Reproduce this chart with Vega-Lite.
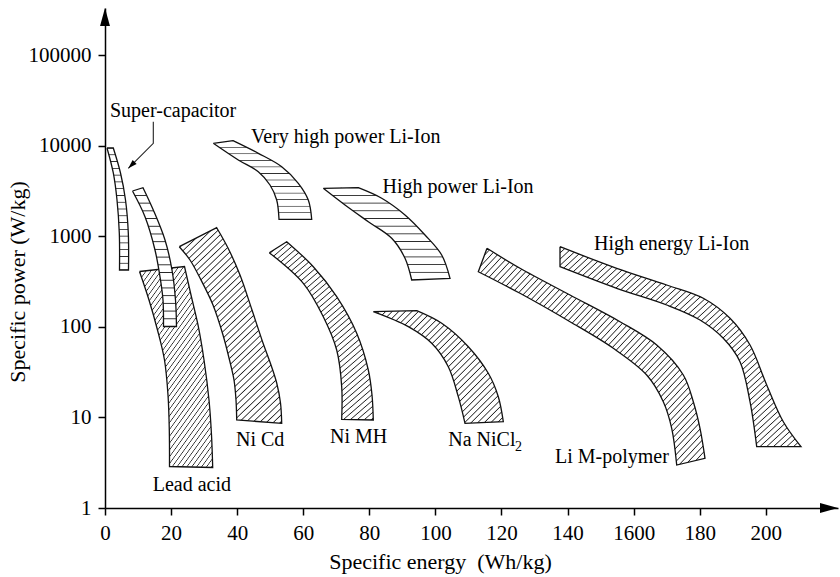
{
"$schema":"https://vega.github.io/schema/vega-lite/v6.json",
"width":733,"height":500,
"autosize":{"type":"none"},
"padding":{"left":105,"top":8,"right":2,"bottom":69},
"background":"white",
"config":{"view":{"stroke":null},
"line":{"interpolate":"catmull-rom"},
"axis":{"domainColor":"#000","domainWidth":1.5,"tickColor":"#000","tickWidth":1.5,"tickSize":7,"labelFont":"Liberation Serif","labelFontSize":21,"labelColor":"#000","labelPadding":7,"titleFont":"Liberation Serif","titleFontSize":22,"titleFontWeight":"normal","titleColor":"#000","grid":false,"labelFlush":false}},
"datasets":{
"reg":[
{"r":"sc","i":0,"e":0.605,"p":9409},{"r":"sc","i":0,"e":0.605,"p":9409},{"r":"sc","i":1,"e":2.512,"p":4985},{"r":"sc","i":2,"e":3.632,"p":2509},{"r":"sc","i":3,"e":4.328,"p":1085},{"r":"sc","i":4,"e":4.389,"p":423.6},{"r":"sc","i":4,"e":4.389,"p":423.6},{"r":"sc","i":5,"e":7.113,"p":423.6},{"r":"sc","i":5,"e":7.113,"p":423.6},{"r":"sc","i":6,"e":7.052,"p":1085},{"r":"sc","i":7,"e":6.205,"p":2509},{"r":"sc","i":8,"e":4.691,"p":4985},{"r":"sc","i":9,"e":2.512,"p":9409},{"r":"sc","i":9,"e":2.512,"p":9409},{"r":"sc","i":10,"e":0.605,"p":9409},{"r":"sc","i":10,"e":0.605,"p":9409},
{"r":"r2","i":0,"e":8.323,"p":3155},{"r":"r2","i":0,"e":8.323,"p":3155},{"r":"r2","i":1,"e":11.501,"p":3430},{"r":"r2","i":1,"e":11.501,"p":3430},{"r":"r2","i":2,"e":14.619,"p":1946},{"r":"r2","i":3,"e":18.16,"p":908},{"r":"r2","i":4,"e":20.278,"p":423.6},{"r":"r2","i":5,"e":21.338,"p":197.6},{"r":"r2","i":6,"e":21.64,"p":100.8},{"r":"r2","i":6,"e":21.64,"p":100.8},{"r":"r2","i":7,"e":17.706,"p":100.8},{"r":"r2","i":7,"e":17.706,"p":100.8},{"r":"r2","i":8,"e":17.554,"p":197.6},{"r":"r2","i":9,"e":16.798,"p":328.6},{"r":"r2","i":10,"e":15.133,"p":704.2},{"r":"r2","i":11,"e":12.107,"p":1641},{"r":"r2","i":12,"e":8.323,"p":3155},{"r":"r2","i":12,"e":8.323,"p":3155},
{"r":"lead","i":0,"e":10.442,"p":407.7},{"r":"lead","i":0,"e":10.442,"p":407.7},{"r":"lead","i":1,"e":24.062,"p":463.1},{"r":"lead","i":1,"e":24.062,"p":463.1},{"r":"lead","i":2,"e":26.029,"p":224.4},{"r":"lead","i":3,"e":28.148,"p":104.7},{"r":"lead","i":4,"e":29.964,"p":43.01},{"r":"lead","i":5,"e":31.477,"p":15.56},{"r":"lead","i":6,"e":32.234,"p":6.394},{"r":"lead","i":7,"e":32.597,"p":2.799},{"r":"lead","i":7,"e":32.597,"p":2.799},{"r":"lead","i":8,"e":19.522,"p":2.871},{"r":"lead","i":8,"e":19.522,"p":2.871},{"r":"lead","i":9,"e":19.461,"p":7.259},{"r":"lead","i":10,"e":19.068,"p":17.67},{"r":"lead","i":11,"e":18.008,"p":43.01},{"r":"lead","i":12,"e":15.89,"p":92.19},{"r":"lead","i":13,"e":13.317,"p":197.6},{"r":"lead","i":14,"e":10.442,"p":407.7},{"r":"lead","i":14,"e":10.442,"p":407.7},
{"r":"nicd","i":0,"e":22.488,"p":765.9},{"r":"nicd","i":0,"e":22.488,"p":765.9},{"r":"nicd","i":1,"e":33.808,"p":1241},{"r":"nicd","i":1,"e":33.808,"p":1241},{"r":"nicd","i":2,"e":37.228,"p":741.1},{"r":"nicd","i":3,"e":40.86,"p":372.9},{"r":"nicd","i":4,"e":44.492,"p":153.2},{"r":"nicd","i":5,"e":47.821,"p":66.27},{"r":"nicd","i":6,"e":50.242,"p":37.87},{"r":"nicd","i":7,"e":51.968,"p":23.97},{"r":"nicd","i":8,"e":53.118,"p":14.42},{"r":"nicd","i":9,"e":53.481,"p":8.607},{"r":"nicd","i":9,"e":53.481,"p":8.607},{"r":"nicd","i":10,"e":39.861,"p":9.361},{"r":"nicd","i":10,"e":39.861,"p":9.361},{"r":"nicd","i":11,"e":39.649,"p":15.56},{"r":"nicd","i":12,"e":39.044,"p":25.87},{"r":"nicd","i":13,"e":37.682,"p":43.01},{"r":"nicd","i":14,"e":35.714,"p":81.19},{"r":"nicd","i":15,"e":32.688,"p":174},{"r":"nicd","i":16,"e":28.753,"p":345.6},{"r":"nicd","i":17,"e":25.726,"p":546.1},{"r":"nicd","i":18,"e":22.488,"p":765.9},{"r":"nicd","i":18,"e":22.488,"p":765.9},
{"r":"vhp","i":0,"e":32.778,"p":10602},{"r":"vhp","i":0,"e":32.778,"p":10602},{"r":"vhp","i":1,"e":38.741,"p":11326},{"r":"vhp","i":1,"e":38.741,"p":11326},{"r":"vhp","i":2,"e":46.399,"p":8222},{"r":"vhp","i":3,"e":53.481,"p":5850},{"r":"vhp","i":4,"e":58.505,"p":3836},{"r":"vhp","i":5,"e":61.531,"p":2509},{"r":"vhp","i":6,"e":62.56,"p":1537},{"r":"vhp","i":6,"e":62.56,"p":1537},{"r":"vhp","i":7,"e":52.663,"p":1537},{"r":"vhp","i":7,"e":52.663,"p":1537},{"r":"vhp","i":8,"e":51.967,"p":2509},{"r":"vhp","i":9,"e":49.939,"p":3674},{"r":"vhp","i":10,"e":46.399,"p":5151},{"r":"vhp","i":11,"e":40.345,"p":6936},{"r":"vhp","i":12,"e":32.778,"p":10602},{"r":"vhp","i":12,"e":32.778,"p":10602},
{"r":"nimh","i":0,"e":49.728,"p":657.6},{"r":"nimh","i":0,"e":49.728,"p":657.6},{"r":"nimh","i":1,"e":54.994,"p":869.6},{"r":"nimh","i":1,"e":54.994,"p":869.6},{"r":"nimh","i":2,"e":63.045,"p":460.8},{"r":"nimh","i":3,"e":70.127,"p":214.9},{"r":"nimh","i":4,"e":76.18,"p":84.78},{"r":"nimh","i":5,"e":79.691,"p":33.37},{"r":"nimh","i":6,"e":80.811,"p":17.67},{"r":"nimh","i":7,"e":81.205,"p":9.361},{"r":"nimh","i":7,"e":81.205,"p":9.361},{"r":"nimh","i":8,"e":71.64,"p":9.528},{"r":"nimh","i":8,"e":71.64,"p":9.528},{"r":"nimh","i":9,"e":71.64,"p":21.83},{"r":"nimh","i":10,"e":70.127,"p":55.44},{"r":"nimh","i":11,"e":66.071,"p":129.3},{"r":"nimh","i":12,"e":60.018,"p":302.1},{"r":"nimh","i":13,"e":49.728,"p":657.6},{"r":"nimh","i":13,"e":49.728,"p":657.6},
{"r":"hp","i":0,"e":66.071,"p":3379},{"r":"hp","i":0,"e":66.071,"p":3379},{"r":"hp","i":1,"e":76.665,"p":3430},{"r":"hp","i":1,"e":76.665,"p":3430},{"r":"hp","i":2,"e":83.747,"p":2620},{"r":"hp","i":3,"e":90.799,"p":1714},{"r":"hp","i":4,"e":96.852,"p":1031},{"r":"hp","i":5,"e":101.907,"p":620.1},{"r":"hp","i":6,"e":104.419,"p":343},{"r":"hp","i":6,"e":104.419,"p":343},{"r":"hp","i":7,"e":92.827,"p":328.6},{"r":"hp","i":7,"e":92.827,"p":328.6},{"r":"hp","i":8,"e":90.799,"p":570.3},{"r":"hp","i":9,"e":86.774,"p":948},{"r":"hp","i":10,"e":79.691,"p":1445},{"r":"hp","i":11,"e":72.639,"p":2210},{"r":"hp","i":12,"e":66.071,"p":3379},{"r":"hp","i":12,"e":66.071,"p":3379},
{"r":"nani","i":0,"e":81.205,"p":146.8},{"r":"nani","i":0,"e":81.205,"p":146.8},{"r":"nani","i":1,"e":94.34,"p":150.6},{"r":"nani","i":1,"e":94.34,"p":150.6},{"r":"nani","i":2,"e":101.907,"p":109.3},{"r":"nani","i":3,"e":109.958,"p":60.31},{"r":"nani","i":4,"e":116.011,"p":30.68},{"r":"nani","i":5,"e":119.038,"p":16.93},{"r":"nani","i":6,"e":120.551,"p":8.965},{"r":"nani","i":6,"e":120.551,"p":8.965},{"r":"nani","i":7,"e":108.959,"p":8.607},{"r":"nani","i":7,"e":108.959,"p":8.607},{"r":"nani","i":8,"e":106.931,"p":16.93},{"r":"nani","i":9,"e":103.904,"p":36.27},{"r":"nani","i":10,"e":98.88,"p":65.77},{"r":"nani","i":11,"e":91.798,"p":100.3},{"r":"nani","i":12,"e":81.205,"p":146.8},{"r":"nani","i":12,"e":81.205,"p":146.8},
{"r":"lim","i":0,"e":115.617,"p":735.3},{"r":"lim","i":0,"e":115.617,"p":735.3},{"r":"lim","i":1,"e":125.605,"p":442.4},{"r":"lim","i":2,"e":140.738,"p":224.4},{"r":"lim","i":3,"e":155.872,"p":113.8},{"r":"lim","i":4,"e":166.979,"p":62.97},{"r":"lim","i":5,"e":175.03,"p":29.38},{"r":"lim","i":6,"e":178.057,"p":14.91},{"r":"lim","i":7,"e":180.085,"p":7.58},{"r":"lim","i":8,"e":181.598,"p":3.537},{"r":"lim","i":8,"e":181.598,"p":3.537},{"r":"lim","i":9,"e":173.033,"p":2.982},{"r":"lim","i":9,"e":173.033,"p":2.982},{"r":"lim","i":10,"e":171.52,"p":7.58},{"r":"lim","i":11,"e":168.977,"p":14.91},{"r":"lim","i":12,"e":163.953,"p":29.38},{"r":"lim","i":13,"e":153.844,"p":57.9},{"r":"lim","i":14,"e":140.738,"p":113.8},{"r":"lim","i":15,"e":125.605,"p":234.3},{"r":"lim","i":16,"e":112.984,"p":405.6},{"r":"lim","i":16,"e":112.984,"p":405.6},{"r":"lim","i":17,"e":115.617,"p":735.3},{"r":"lim","i":17,"e":115.617,"p":735.3},
{"r":"he","i":0,"e":137.712,"p":765.9},{"r":"he","i":0,"e":137.712,"p":765.9},{"r":"he","i":1,"e":154.873,"p":442.4},{"r":"he","i":2,"e":170.006,"p":289.3},{"r":"he","i":3,"e":181.084,"p":206.4},{"r":"he","i":4,"e":189.165,"p":124.1},{"r":"he","i":5,"e":195.218,"p":62.97},{"r":"he","i":6,"e":200.272,"p":22.79},{"r":"he","i":7,"e":205.296,"p":8.965},{"r":"he","i":8,"e":210.654,"p":4.75},{"r":"he","i":8,"e":210.654,"p":4.75},{"r":"he","i":9,"e":197.246,"p":4.75},{"r":"he","i":9,"e":197.246,"p":4.75},{"r":"he","i":10,"e":195.218,"p":14.91},{"r":"he","i":11,"e":192.191,"p":41.19},{"r":"he","i":12,"e":187.137,"p":74.66},{"r":"he","i":13,"e":180.085,"p":118.9},{"r":"he","i":14,"e":170.006,"p":174},{"r":"he","i":15,"e":154.873,"p":266},{"r":"he","i":16,"e":137.712,"p":460.8},{"r":"he","i":16,"e":137.712,"p":460.8},{"r":"he","i":17,"e":137.712,"p":765.9},{"r":"he","i":17,"e":137.712,"p":765.9}
],
"labels":[
{"t":"Super-capacitor","e":1.513,"p":20690},
{"t":"Very high power Li-Ion","e":44.2,"p":10684},
{"t":"High power Li-Ion","e":83.99,"p":2999},
{"t":"High energy Li-Ion","e":148.0,"p":704.2},
{"t":"Lead acid","e":14.44,"p":1.54},
{"t":"Ni Cd","e":39.65,"p":4.834},
{"t":"Ni MH","e":68.1,"p":5.217},
{"t":"Na NiCl","e":103.9,"p":4.774},
{"t":"Li M-polymer","e":136.2,"p":3.138}
],
"arrow":[{"i":0,"e":14.619,"p":18360},{"i":1,"e":14.619,"p":10602},{"i":2,"e":7.052,"p":5616}]
},
"encoding":{
"x":{"field":"e","type":"quantitative","scale":{"domain":[0,221.85],"nice":false,"zero":false},
"axis":{"values":[0,20,40,60,80,100,120,140,160,180,200],"labelExpr":"datum.value == 160 ? '1600' : datum.label","title":"Specific energy \u00a0(Wh/kg)","titleX":335,"titleY":60,"titleAlign":"center","titleBaseline":"alphabetic","titleAngle":0}},
"y":{"field":"p","type":"quantitative","scale":{"type":"log","domain":[1,330260],"nice":false},
"axis":{"values":[1,10,100,1000,10000,100000],"format":"d","title":"Specific power (W/kg)","titleX":-81,"titleY":273.5,"titleAlign":"center","titleBaseline":"alphabetic","titleAngle":-90}}
},
"layer":[
{"data":{"name":"reg"},"transform":[{"filter":{"field":"r","oneOf":["lead","nicd","nimh"]}}],
"mark":{"type":"line","stroke":"#111","strokeWidth":1.3,"fill":{"gradient":"linear","x1":0,"y1":0,"x2":0.6,"y2":1.19,"stops":[
{"offset":0,"color":"#222"},{"offset":0.0039,"color":"#fff"},{"offset":0.0188,"color":"#fff"},
{"offset":0.0227,"color":"#222"},{"offset":0.0266,"color":"#fff"},{"offset":0.0416,"color":"#fff"},
{"offset":0.0455,"color":"#222"},{"offset":0.0494,"color":"#fff"},{"offset":0.0643,"color":"#fff"},
{"offset":0.0682,"color":"#222"},{"offset":0.0721,"color":"#fff"},{"offset":0.087,"color":"#fff"},
{"offset":0.0909,"color":"#222"},{"offset":0.0948,"color":"#fff"},{"offset":0.1097,"color":"#fff"},
{"offset":0.1136,"color":"#222"},{"offset":0.1175,"color":"#fff"},{"offset":0.1325,"color":"#fff"},
{"offset":0.1364,"color":"#222"},{"offset":0.1403,"color":"#fff"},{"offset":0.1552,"color":"#fff"},
{"offset":0.1591,"color":"#222"},{"offset":0.163,"color":"#fff"},{"offset":0.1779,"color":"#fff"},
{"offset":0.1818,"color":"#222"},{"offset":0.1857,"color":"#fff"},{"offset":0.2006,"color":"#fff"},
{"offset":0.2045,"color":"#222"},{"offset":0.2084,"color":"#fff"},{"offset":0.2234,"color":"#fff"},
{"offset":0.2273,"color":"#222"},{"offset":0.2312,"color":"#fff"},{"offset":0.2461,"color":"#fff"},
{"offset":0.25,"color":"#222"},{"offset":0.2539,"color":"#fff"},{"offset":0.2688,"color":"#fff"},
{"offset":0.2727,"color":"#222"},{"offset":0.2766,"color":"#fff"},{"offset":0.2916,"color":"#fff"},
{"offset":0.2955,"color":"#222"},{"offset":0.2994,"color":"#fff"},{"offset":0.3143,"color":"#fff"},
{"offset":0.3182,"color":"#222"},{"offset":0.3221,"color":"#fff"},{"offset":0.337,"color":"#fff"},
{"offset":0.3409,"color":"#222"},{"offset":0.3448,"color":"#fff"},{"offset":0.3597,"color":"#fff"},
{"offset":0.3636,"color":"#222"},{"offset":0.3675,"color":"#fff"},{"offset":0.3825,"color":"#fff"},
{"offset":0.3864,"color":"#222"},{"offset":0.3903,"color":"#fff"},{"offset":0.4052,"color":"#fff"},
{"offset":0.4091,"color":"#222"},{"offset":0.413,"color":"#fff"},{"offset":0.4279,"color":"#fff"},
{"offset":0.4318,"color":"#222"},{"offset":0.4357,"color":"#fff"},{"offset":0.4506,"color":"#fff"},
{"offset":0.4545,"color":"#222"},{"offset":0.4584,"color":"#fff"},{"offset":0.4734,"color":"#fff"},
{"offset":0.4773,"color":"#222"},{"offset":0.4812,"color":"#fff"},{"offset":0.4961,"color":"#fff"},
{"offset":0.5,"color":"#222"},{"offset":0.5039,"color":"#fff"},{"offset":0.5188,"color":"#fff"},
{"offset":0.5227,"color":"#222"},{"offset":0.5266,"color":"#fff"},{"offset":0.5416,"color":"#fff"},
{"offset":0.5455,"color":"#222"},{"offset":0.5494,"color":"#fff"},{"offset":0.5643,"color":"#fff"},
{"offset":0.5682,"color":"#222"},{"offset":0.5721,"color":"#fff"},{"offset":0.587,"color":"#fff"},
{"offset":0.5909,"color":"#222"},{"offset":0.5948,"color":"#fff"},{"offset":0.6097,"color":"#fff"},
{"offset":0.6136,"color":"#222"},{"offset":0.6175,"color":"#fff"},{"offset":0.6325,"color":"#fff"},
{"offset":0.6364,"color":"#222"},{"offset":0.6403,"color":"#fff"},{"offset":0.6552,"color":"#fff"},
{"offset":0.6591,"color":"#222"},{"offset":0.663,"color":"#fff"},{"offset":0.6779,"color":"#fff"},
{"offset":0.6818,"color":"#222"},{"offset":0.6857,"color":"#fff"},{"offset":0.7006,"color":"#fff"},
{"offset":0.7045,"color":"#222"},{"offset":0.7084,"color":"#fff"},{"offset":0.7234,"color":"#fff"},
{"offset":0.7273,"color":"#222"},{"offset":0.7312,"color":"#fff"},{"offset":0.7461,"color":"#fff"},
{"offset":0.75,"color":"#222"},{"offset":0.7539,"color":"#fff"},{"offset":0.7688,"color":"#fff"},
{"offset":0.7727,"color":"#222"},{"offset":0.7766,"color":"#fff"},{"offset":0.7916,"color":"#fff"},
{"offset":0.7955,"color":"#222"},{"offset":0.7994,"color":"#fff"},{"offset":0.8143,"color":"#fff"},
{"offset":0.8182,"color":"#222"},{"offset":0.8221,"color":"#fff"},{"offset":0.837,"color":"#fff"},
{"offset":0.8409,"color":"#222"},{"offset":0.8448,"color":"#fff"},{"offset":0.8597,"color":"#fff"},
{"offset":0.8636,"color":"#222"},{"offset":0.8675,"color":"#fff"},{"offset":0.8825,"color":"#fff"},
{"offset":0.8864,"color":"#222"},{"offset":0.8903,"color":"#fff"},{"offset":0.9052,"color":"#fff"},
{"offset":0.9091,"color":"#222"},{"offset":0.913,"color":"#fff"},{"offset":0.9279,"color":"#fff"},
{"offset":0.9318,"color":"#222"},{"offset":0.9357,"color":"#fff"},{"offset":0.9506,"color":"#fff"},
{"offset":0.9545,"color":"#222"},{"offset":0.9584,"color":"#fff"},{"offset":0.9734,"color":"#fff"},
{"offset":0.9773,"color":"#222"},{"offset":0.9812,"color":"#fff"},{"offset":0.9961,"color":"#fff"},
{"offset":1,"color":"#222"}]}},
"encoding":{"order":{"field":"i","type":"quantitative"},"detail":{"field":"r"}}},
{"data":{"name":"reg"},"transform":[{"filter":{"field":"r","oneOf":["nani"]}}],
"mark":{"type":"line","stroke":"#111","strokeWidth":1.3,"fill":{"gradient":"linear","x1":0,"y1":0,"x2":1.066,"y2":0.924,"stops":[
{"offset":0,"color":"#222"},{"offset":0.0046,"color":"#fff"},{"offset":0.0224,"color":"#fff"},
{"offset":0.027,"color":"#222"},{"offset":0.0316,"color":"#fff"},{"offset":0.0495,"color":"#fff"},
{"offset":0.0541,"color":"#222"},{"offset":0.0587,"color":"#fff"},{"offset":0.0765,"color":"#fff"},
{"offset":0.0811,"color":"#222"},{"offset":0.0857,"color":"#fff"},{"offset":0.1035,"color":"#fff"},
{"offset":0.1081,"color":"#222"},{"offset":0.1127,"color":"#fff"},{"offset":0.1305,"color":"#fff"},
{"offset":0.1351,"color":"#222"},{"offset":0.1397,"color":"#fff"},{"offset":0.1576,"color":"#fff"},
{"offset":0.1622,"color":"#222"},{"offset":0.1668,"color":"#fff"},{"offset":0.1846,"color":"#fff"},
{"offset":0.1892,"color":"#222"},{"offset":0.1938,"color":"#fff"},{"offset":0.2116,"color":"#fff"},
{"offset":0.2162,"color":"#222"},{"offset":0.2208,"color":"#fff"},{"offset":0.2386,"color":"#fff"},
{"offset":0.2432,"color":"#222"},{"offset":0.2478,"color":"#fff"},{"offset":0.2657,"color":"#fff"},
{"offset":0.2703,"color":"#222"},{"offset":0.2749,"color":"#fff"},{"offset":0.2927,"color":"#fff"},
{"offset":0.2973,"color":"#222"},{"offset":0.3019,"color":"#fff"},{"offset":0.3197,"color":"#fff"},
{"offset":0.3243,"color":"#222"},{"offset":0.3289,"color":"#fff"},{"offset":0.3468,"color":"#fff"},
{"offset":0.3514,"color":"#222"},{"offset":0.356,"color":"#fff"},{"offset":0.3738,"color":"#fff"},
{"offset":0.3784,"color":"#222"},{"offset":0.383,"color":"#fff"},{"offset":0.4008,"color":"#fff"},
{"offset":0.4054,"color":"#222"},{"offset":0.41,"color":"#fff"},{"offset":0.4278,"color":"#fff"},
{"offset":0.4324,"color":"#222"},{"offset":0.437,"color":"#fff"},{"offset":0.4549,"color":"#fff"},
{"offset":0.4595,"color":"#222"},{"offset":0.4641,"color":"#fff"},{"offset":0.4819,"color":"#fff"},
{"offset":0.4865,"color":"#222"},{"offset":0.4911,"color":"#fff"},{"offset":0.5089,"color":"#fff"},
{"offset":0.5135,"color":"#222"},{"offset":0.5181,"color":"#fff"},{"offset":0.5359,"color":"#fff"},
{"offset":0.5405,"color":"#222"},{"offset":0.5451,"color":"#fff"},{"offset":0.563,"color":"#fff"},
{"offset":0.5676,"color":"#222"},{"offset":0.5722,"color":"#fff"},{"offset":0.59,"color":"#fff"},
{"offset":0.5946,"color":"#222"},{"offset":0.5992,"color":"#fff"},{"offset":0.617,"color":"#fff"},
{"offset":0.6216,"color":"#222"},{"offset":0.6262,"color":"#fff"},{"offset":0.644,"color":"#fff"},
{"offset":0.6486,"color":"#222"},{"offset":0.6532,"color":"#fff"},{"offset":0.6711,"color":"#fff"},
{"offset":0.6757,"color":"#222"},{"offset":0.6803,"color":"#fff"},{"offset":0.6981,"color":"#fff"},
{"offset":0.7027,"color":"#222"},{"offset":0.7073,"color":"#fff"},{"offset":0.7251,"color":"#fff"},
{"offset":0.7297,"color":"#222"},{"offset":0.7343,"color":"#fff"},{"offset":0.7522,"color":"#fff"},
{"offset":0.7568,"color":"#222"},{"offset":0.7614,"color":"#fff"},{"offset":0.7792,"color":"#fff"},
{"offset":0.7838,"color":"#222"},{"offset":0.7884,"color":"#fff"},{"offset":0.8062,"color":"#fff"},
{"offset":0.8108,"color":"#222"},{"offset":0.8154,"color":"#fff"},{"offset":0.8332,"color":"#fff"},
{"offset":0.8378,"color":"#222"},{"offset":0.8424,"color":"#fff"},{"offset":0.8603,"color":"#fff"},
{"offset":0.8649,"color":"#222"},{"offset":0.8695,"color":"#fff"},{"offset":0.8873,"color":"#fff"},
{"offset":0.8919,"color":"#222"},{"offset":0.8965,"color":"#fff"},{"offset":0.9143,"color":"#fff"},
{"offset":0.9189,"color":"#222"},{"offset":0.9235,"color":"#fff"},{"offset":0.9413,"color":"#fff"},
{"offset":0.9459,"color":"#222"},{"offset":0.9505,"color":"#fff"},{"offset":0.9684,"color":"#fff"},
{"offset":0.973,"color":"#222"},{"offset":0.9776,"color":"#fff"},{"offset":0.9954,"color":"#fff"},
{"offset":1,"color":"#222"}]}},
"encoding":{"order":{"field":"i","type":"quantitative"},"detail":{"field":"r"}}},
{"data":{"name":"reg"},"transform":[{"filter":{"field":"r","oneOf":["lim","he"]}}],
"mark":{"type":"line","stroke":"#111","strokeWidth":1.3,"fill":{"gradient":"linear","x1":0,"y1":0,"x2":1.05,"y2":0.94,"stops":[
{"offset":0,"color":"#222"},{"offset":0.0025,"color":"#fff"},{"offset":0.0122,"color":"#fff"},
{"offset":0.0147,"color":"#222"},{"offset":0.0172,"color":"#fff"},{"offset":0.0269,"color":"#fff"},
{"offset":0.0294,"color":"#222"},{"offset":0.0319,"color":"#fff"},{"offset":0.0416,"color":"#fff"},
{"offset":0.0441,"color":"#222"},{"offset":0.0466,"color":"#fff"},{"offset":0.0563,"color":"#fff"},
{"offset":0.0588,"color":"#222"},{"offset":0.0613,"color":"#fff"},{"offset":0.071,"color":"#fff"},
{"offset":0.0735,"color":"#222"},{"offset":0.076,"color":"#fff"},{"offset":0.0857,"color":"#fff"},
{"offset":0.0882,"color":"#222"},{"offset":0.0907,"color":"#fff"},{"offset":0.1004,"color":"#fff"},
{"offset":0.1029,"color":"#222"},{"offset":0.1054,"color":"#fff"},{"offset":0.1151,"color":"#fff"},
{"offset":0.1176,"color":"#222"},{"offset":0.1201,"color":"#fff"},{"offset":0.1299,"color":"#fff"},
{"offset":0.1324,"color":"#222"},{"offset":0.1349,"color":"#fff"},{"offset":0.1446,"color":"#fff"},
{"offset":0.1471,"color":"#222"},{"offset":0.1496,"color":"#fff"},{"offset":0.1593,"color":"#fff"},
{"offset":0.1618,"color":"#222"},{"offset":0.1643,"color":"#fff"},{"offset":0.174,"color":"#fff"},
{"offset":0.1765,"color":"#222"},{"offset":0.179,"color":"#fff"},{"offset":0.1887,"color":"#fff"},
{"offset":0.1912,"color":"#222"},{"offset":0.1937,"color":"#fff"},{"offset":0.2034,"color":"#fff"},
{"offset":0.2059,"color":"#222"},{"offset":0.2084,"color":"#fff"},{"offset":0.2181,"color":"#fff"},
{"offset":0.2206,"color":"#222"},{"offset":0.2231,"color":"#fff"},{"offset":0.2328,"color":"#fff"},
{"offset":0.2353,"color":"#222"},{"offset":0.2378,"color":"#fff"},{"offset":0.2475,"color":"#fff"},
{"offset":0.25,"color":"#222"},{"offset":0.2525,"color":"#fff"},{"offset":0.2622,"color":"#fff"},
{"offset":0.2647,"color":"#222"},{"offset":0.2672,"color":"#fff"},{"offset":0.2769,"color":"#fff"},
{"offset":0.2794,"color":"#222"},{"offset":0.2819,"color":"#fff"},{"offset":0.2916,"color":"#fff"},
{"offset":0.2941,"color":"#222"},{"offset":0.2966,"color":"#fff"},{"offset":0.3063,"color":"#fff"},
{"offset":0.3088,"color":"#222"},{"offset":0.3113,"color":"#fff"},{"offset":0.321,"color":"#fff"},
{"offset":0.3235,"color":"#222"},{"offset":0.326,"color":"#fff"},{"offset":0.3357,"color":"#fff"},
{"offset":0.3382,"color":"#222"},{"offset":0.3407,"color":"#fff"},{"offset":0.3504,"color":"#fff"},
{"offset":0.3529,"color":"#222"},{"offset":0.3554,"color":"#fff"},{"offset":0.3651,"color":"#fff"},
{"offset":0.3676,"color":"#222"},{"offset":0.3701,"color":"#fff"},{"offset":0.3799,"color":"#fff"},
{"offset":0.3824,"color":"#222"},{"offset":0.3849,"color":"#fff"},{"offset":0.3946,"color":"#fff"},
{"offset":0.3971,"color":"#222"},{"offset":0.3996,"color":"#fff"},{"offset":0.4093,"color":"#fff"},
{"offset":0.4118,"color":"#222"},{"offset":0.4143,"color":"#fff"},{"offset":0.424,"color":"#fff"},
{"offset":0.4265,"color":"#222"},{"offset":0.429,"color":"#fff"},{"offset":0.4387,"color":"#fff"},
{"offset":0.4412,"color":"#222"},{"offset":0.4437,"color":"#fff"},{"offset":0.4534,"color":"#fff"},
{"offset":0.4559,"color":"#222"},{"offset":0.4584,"color":"#fff"},{"offset":0.4681,"color":"#fff"},
{"offset":0.4706,"color":"#222"},{"offset":0.4731,"color":"#fff"},{"offset":0.4828,"color":"#fff"},
{"offset":0.4853,"color":"#222"},{"offset":0.4878,"color":"#fff"},{"offset":0.4975,"color":"#fff"},
{"offset":0.5,"color":"#222"},{"offset":0.5025,"color":"#fff"},{"offset":0.5122,"color":"#fff"},
{"offset":0.5147,"color":"#222"},{"offset":0.5172,"color":"#fff"},{"offset":0.5269,"color":"#fff"},
{"offset":0.5294,"color":"#222"},{"offset":0.5319,"color":"#fff"},{"offset":0.5416,"color":"#fff"},
{"offset":0.5441,"color":"#222"},{"offset":0.5466,"color":"#fff"},{"offset":0.5563,"color":"#fff"},
{"offset":0.5588,"color":"#222"},{"offset":0.5613,"color":"#fff"},{"offset":0.571,"color":"#fff"},
{"offset":0.5735,"color":"#222"},{"offset":0.576,"color":"#fff"},{"offset":0.5857,"color":"#fff"},
{"offset":0.5882,"color":"#222"},{"offset":0.5907,"color":"#fff"},{"offset":0.6004,"color":"#fff"},
{"offset":0.6029,"color":"#222"},{"offset":0.6054,"color":"#fff"},{"offset":0.6151,"color":"#fff"},
{"offset":0.6176,"color":"#222"},{"offset":0.6201,"color":"#fff"},{"offset":0.6299,"color":"#fff"},
{"offset":0.6324,"color":"#222"},{"offset":0.6349,"color":"#fff"},{"offset":0.6446,"color":"#fff"},
{"offset":0.6471,"color":"#222"},{"offset":0.6496,"color":"#fff"},{"offset":0.6593,"color":"#fff"},
{"offset":0.6618,"color":"#222"},{"offset":0.6643,"color":"#fff"},{"offset":0.674,"color":"#fff"},
{"offset":0.6765,"color":"#222"},{"offset":0.679,"color":"#fff"},{"offset":0.6887,"color":"#fff"},
{"offset":0.6912,"color":"#222"},{"offset":0.6937,"color":"#fff"},{"offset":0.7034,"color":"#fff"},
{"offset":0.7059,"color":"#222"},{"offset":0.7084,"color":"#fff"},{"offset":0.7181,"color":"#fff"},
{"offset":0.7206,"color":"#222"},{"offset":0.7231,"color":"#fff"},{"offset":0.7328,"color":"#fff"},
{"offset":0.7353,"color":"#222"},{"offset":0.7378,"color":"#fff"},{"offset":0.7475,"color":"#fff"},
{"offset":0.75,"color":"#222"},{"offset":0.7525,"color":"#fff"},{"offset":0.7622,"color":"#fff"},
{"offset":0.7647,"color":"#222"},{"offset":0.7672,"color":"#fff"},{"offset":0.7769,"color":"#fff"},
{"offset":0.7794,"color":"#222"},{"offset":0.7819,"color":"#fff"},{"offset":0.7916,"color":"#fff"},
{"offset":0.7941,"color":"#222"},{"offset":0.7966,"color":"#fff"},{"offset":0.8063,"color":"#fff"},
{"offset":0.8088,"color":"#222"},{"offset":0.8113,"color":"#fff"},{"offset":0.821,"color":"#fff"},
{"offset":0.8235,"color":"#222"},{"offset":0.826,"color":"#fff"},{"offset":0.8357,"color":"#fff"},
{"offset":0.8382,"color":"#222"},{"offset":0.8407,"color":"#fff"},{"offset":0.8504,"color":"#fff"},
{"offset":0.8529,"color":"#222"},{"offset":0.8554,"color":"#fff"},{"offset":0.8651,"color":"#fff"},
{"offset":0.8676,"color":"#222"},{"offset":0.8701,"color":"#fff"},{"offset":0.8799,"color":"#fff"},
{"offset":0.8824,"color":"#222"},{"offset":0.8849,"color":"#fff"},{"offset":0.8946,"color":"#fff"},
{"offset":0.8971,"color":"#222"},{"offset":0.8996,"color":"#fff"},{"offset":0.9093,"color":"#fff"},
{"offset":0.9118,"color":"#222"},{"offset":0.9143,"color":"#fff"},{"offset":0.924,"color":"#fff"},
{"offset":0.9265,"color":"#222"},{"offset":0.929,"color":"#fff"},{"offset":0.9387,"color":"#fff"},
{"offset":0.9412,"color":"#222"},{"offset":0.9437,"color":"#fff"},{"offset":0.9534,"color":"#fff"},
{"offset":0.9559,"color":"#222"},{"offset":0.9584,"color":"#fff"},{"offset":0.9681,"color":"#fff"},
{"offset":0.9706,"color":"#222"},{"offset":0.9731,"color":"#fff"},{"offset":0.9828,"color":"#fff"},
{"offset":0.9853,"color":"#222"},{"offset":0.9878,"color":"#fff"},{"offset":0.9975,"color":"#fff"},
{"offset":1,"color":"#222"}]}},
"encoding":{"order":{"field":"i","type":"quantitative"},"detail":{"field":"r"}}},
{"data":{"name":"reg"},"transform":[{"filter":{"field":"r","oneOf":["sc","r2"]}}],
"mark":{"type":"line","stroke":"#111","strokeWidth":1.3,"fill":{"gradient":"linear","x1":0,"y1":0,"x2":0,"y2":1,"stops":[
{"offset":0,"color":"#222"},{"offset":0.0067,"color":"#fff"},{"offset":0.0489,"color":"#fff"},
{"offset":0.0556,"color":"#222"},{"offset":0.0622,"color":"#fff"},{"offset":0.1044,"color":"#fff"},
{"offset":0.1111,"color":"#222"},{"offset":0.1178,"color":"#fff"},{"offset":0.16,"color":"#fff"},
{"offset":0.1667,"color":"#222"},{"offset":0.1733,"color":"#fff"},{"offset":0.2156,"color":"#fff"},
{"offset":0.2222,"color":"#222"},{"offset":0.2289,"color":"#fff"},{"offset":0.2711,"color":"#fff"},
{"offset":0.2778,"color":"#222"},{"offset":0.2844,"color":"#fff"},{"offset":0.3267,"color":"#fff"},
{"offset":0.3333,"color":"#222"},{"offset":0.34,"color":"#fff"},{"offset":0.3822,"color":"#fff"},
{"offset":0.3889,"color":"#222"},{"offset":0.3956,"color":"#fff"},{"offset":0.4378,"color":"#fff"},
{"offset":0.4444,"color":"#222"},{"offset":0.4511,"color":"#fff"},{"offset":0.4933,"color":"#fff"},
{"offset":0.5,"color":"#222"},{"offset":0.5067,"color":"#fff"},{"offset":0.5489,"color":"#fff"},
{"offset":0.5556,"color":"#222"},{"offset":0.5622,"color":"#fff"},{"offset":0.6044,"color":"#fff"},
{"offset":0.6111,"color":"#222"},{"offset":0.6178,"color":"#fff"},{"offset":0.66,"color":"#fff"},
{"offset":0.6667,"color":"#222"},{"offset":0.6733,"color":"#fff"},{"offset":0.7156,"color":"#fff"},
{"offset":0.7222,"color":"#222"},{"offset":0.7289,"color":"#fff"},{"offset":0.7711,"color":"#fff"},
{"offset":0.7778,"color":"#222"},{"offset":0.7844,"color":"#fff"},{"offset":0.8267,"color":"#fff"},
{"offset":0.8333,"color":"#222"},{"offset":0.84,"color":"#fff"},{"offset":0.8822,"color":"#fff"},
{"offset":0.8889,"color":"#222"},{"offset":0.8956,"color":"#fff"},{"offset":0.9378,"color":"#fff"},
{"offset":0.9444,"color":"#222"},{"offset":0.9511,"color":"#fff"},{"offset":0.9933,"color":"#fff"},
{"offset":1,"color":"#222"}]}},
"encoding":{"order":{"field":"i","type":"quantitative"},"detail":{"field":"r"}}},
{"data":{"name":"reg"},"transform":[{"filter":{"field":"r","oneOf":["vhp","hp"]}}],
"mark":{"type":"line","stroke":"#111","strokeWidth":1.3,"fill":{"gradient":"linear","x1":0,"y1":0,"x2":0,"y2":1,"stops":[
{"offset":0,"color":"#222"},{"offset":0.0092,"color":"#fff"},{"offset":0.0742,"color":"#fff"},
{"offset":0.0833,"color":"#222"},{"offset":0.0925,"color":"#fff"},{"offset":0.1575,"color":"#fff"},
{"offset":0.1667,"color":"#222"},{"offset":0.1758,"color":"#fff"},{"offset":0.2408,"color":"#fff"},
{"offset":0.25,"color":"#222"},{"offset":0.2592,"color":"#fff"},{"offset":0.3242,"color":"#fff"},
{"offset":0.3333,"color":"#222"},{"offset":0.3425,"color":"#fff"},{"offset":0.4075,"color":"#fff"},
{"offset":0.4167,"color":"#222"},{"offset":0.4258,"color":"#fff"},{"offset":0.4908,"color":"#fff"},
{"offset":0.5,"color":"#222"},{"offset":0.5092,"color":"#fff"},{"offset":0.5742,"color":"#fff"},
{"offset":0.5833,"color":"#222"},{"offset":0.5925,"color":"#fff"},{"offset":0.6575,"color":"#fff"},
{"offset":0.6667,"color":"#222"},{"offset":0.6758,"color":"#fff"},{"offset":0.7408,"color":"#fff"},
{"offset":0.75,"color":"#222"},{"offset":0.7592,"color":"#fff"},{"offset":0.8242,"color":"#fff"},
{"offset":0.8333,"color":"#222"},{"offset":0.8425,"color":"#fff"},{"offset":0.9075,"color":"#fff"},
{"offset":0.9167,"color":"#222"},{"offset":0.9258,"color":"#fff"},{"offset":0.9908,"color":"#fff"},
{"offset":1,"color":"#222"}]}},
"encoding":{"order":{"field":"i","type":"quantitative"},"detail":{"field":"r"}}},
{"data":{"name":"arrow"},"mark":{"type":"line","stroke":"#222","strokeWidth":1.1,"interpolate":"linear"},
"encoding":{"order":{"field":"i","type":"quantitative"}}},
{"data":{"values":[{"e":7.052,"p":5616}]},"mark":{"type":"point","shape":"M-0.5,1.6L0,0L0.5,1.6Z","angle":225,"size":125,"filled":true,"color":"#000","opacity":1}},
{"data":{"name":"labels"},"mark":{"type":"text","align":"left","baseline":"alphabetic","font":"Liberation Serif","fontSize":20,"color":"#000"},
"encoding":{"text":{"field":"t"}}},
{"data":{"values":[{"t":"2","e":124.1,"p":4.257}]},"mark":{"type":"text","align":"left","baseline":"alphabetic","font":"Liberation Serif","fontSize":14,"color":"#000"},
"encoding":{"text":{"field":"t"}}},
{"data":{"values":[{"e":221.85,"p":1}]},"mark":{"type":"point","shape":"M-2,-0.55L0,0L-2,0.55Z","size":324,"filled":true,"color":"#000","opacity":1,"clip":false}},
{"data":{"values":[{"e":0,"p":330260}]},"mark":{"type":"point","shape":"M-0.55,2L0,0L0.55,2Z","size":324,"filled":true,"color":"#000","opacity":1,"clip":false}}
]
}
